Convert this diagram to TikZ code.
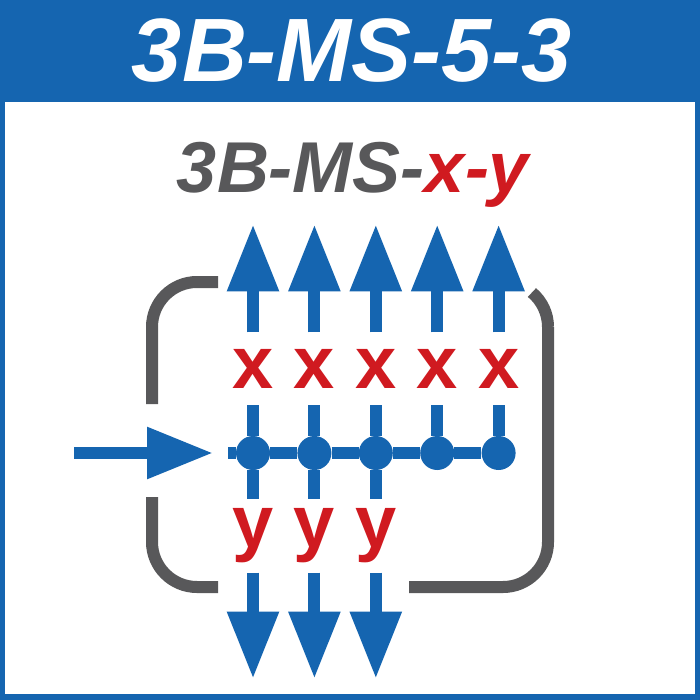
\documentclass[tikz,border=0pt]{standalone}
\usepackage{fontspec}
\setmainfont{Liberation Sans}
\usepackage{xcolor}
\usepackage{tikz}
\usetikzlibrary{arrows.meta, positioning, calc}

\definecolor{pipeblue}{RGB}{21,101,176}
\definecolor{housinggray}{RGB}{88,88,90}
\definecolor{tagred}{RGB}{208,26,32}

\tikzstyle{title} = [anchor=base, inner sep=0pt, text=white, font=\fontsize{90}{90}\selectfont\bfseries\itshape]
\tikzstyle{subtitle} = [anchor=base, inner sep=0pt, text=housinggray, font=\fontsize{72}{72}\selectfont\bfseries\itshape]
\tikzstyle{junction} = [circle, fill=pipeblue, minimum size=34pt, inner sep=0pt]
\tikzstyle{xtag} = [inner sep=0pt, minimum height=72pt, text=tagred, font=\fontsize{74}{74}\selectfont\bfseries]
\tikzstyle{ytag} = [xtag, minimum height=73pt]
\tikzstyle{flow} = [draw=pipeblue, line width=12pt]
\tikzstyle{outflow} = [flow, -{Triangle[length=67pt, width=49pt]}]
\tikzstyle{inflow} = [flow, -{Triangle[length=66pt, width=49pt]}]
\tikzstyle{housing} = [draw=housinggray, line width=12pt]

\begin{document}
\begin{tikzpicture}[x=1pt, y=-1pt]
    % Frame and title bar
    \useasboundingbox (0,0) rectangle (700,700);
    \fill[pipeblue] (0,0) rectangle (700,700);
    \fill[white] (5,102) rectangle (695,694);
    \node[title] (title) at (352,82) {3B-MS-5-3};
    \node[subtitle] (subtitle) at (353,193) {3B-MS-\textcolor{tagred}{x-y}};

    % Junctions
    \node[junction] (j1) at (253,453) {};
    \node[junction, right=27pt of j1] (j2) {};
    \node[junction, right=27pt of j2] (j3) {};
    \node[junction, right=27pt of j3] (j4) {};
    \node[junction, right=27pt of j4] (j5) {};

    % Outlet tags
    \node[xtag, above=31pt of j1] (x1) {x};
    \node[xtag, above=31pt of j2] (x2) {x};
    \node[xtag, above=31pt of j3] (x3) {x};
    \node[xtag, above=31pt of j4] (x4) {x};
    \node[xtag, above=31pt of j5] (x5) {x};
    \node[ytag, below=29pt of j1] (y1) {y};
    \node[ytag, below=29pt of j2] (y2) {y};
    \node[ytag, below=29pt of j3] (y3) {y};

    % Arrow ends
    \coordinate[above=108pt of x1] (t1);
    \coordinate[above=108pt of x2] (t2);
    \coordinate[above=108pt of x3] (t3);
    \coordinate[above=108pt of x4] (t4);
    \coordinate[above=108pt of x5] (t5);
    \coordinate[below=106pt of y1] (b1);
    \coordinate[below=106pt of y2] (b2);
    \coordinate[below=106pt of y3] (b3);
    \coordinate (inlet) at (74,453);
    \coordinate (inletend) at (213,453);
    \coordinate (header) at (228,453);

    % Connections
    \draw[flow] (header) -- (j1) -- (j2) -- (j3) -- (j4) -- (j5);
    \draw[flow] (j1) -- (x1);
    \draw[flow] (j2) -- (x2);
    \draw[flow] (j3) -- (x3);
    \draw[flow] (j4) -- (x4);
    \draw[flow] (j5) -- (x5);
    \draw[outflow] (x1) -- (t1);
    \draw[outflow] (x2) -- (t2);
    \draw[outflow] (x3) -- (t3);
    \draw[outflow] (x4) -- (t4);
    \draw[outflow] (x5) -- (t5);
    \draw[flow] (j1) -- (y1);
    \draw[flow] (j2) -- (y2);
    \draw[flow] (j3) -- (y3);
    \draw[outflow] (y1) -- (b1);
    \draw[outflow] (y2) -- (b2);
    \draw[outflow] (y3) -- (b3);
    \draw[inflow] (inlet) -- (inletend);

    % Housing
    \draw[housing, rounded corners=45pt] (218,282) -- (152,282) -- (152,404);
    \draw[housing, rounded corners=45pt] (152,497) -- (152,587) -- (218,587);
    \draw[housing, rounded corners=45pt] (409,587) -- (548,587) -- (548,327);
    \draw[housing] (548,327) arc[start angle=0, end angle=50, radius=45pt];
\end{tikzpicture}
\end{document}
